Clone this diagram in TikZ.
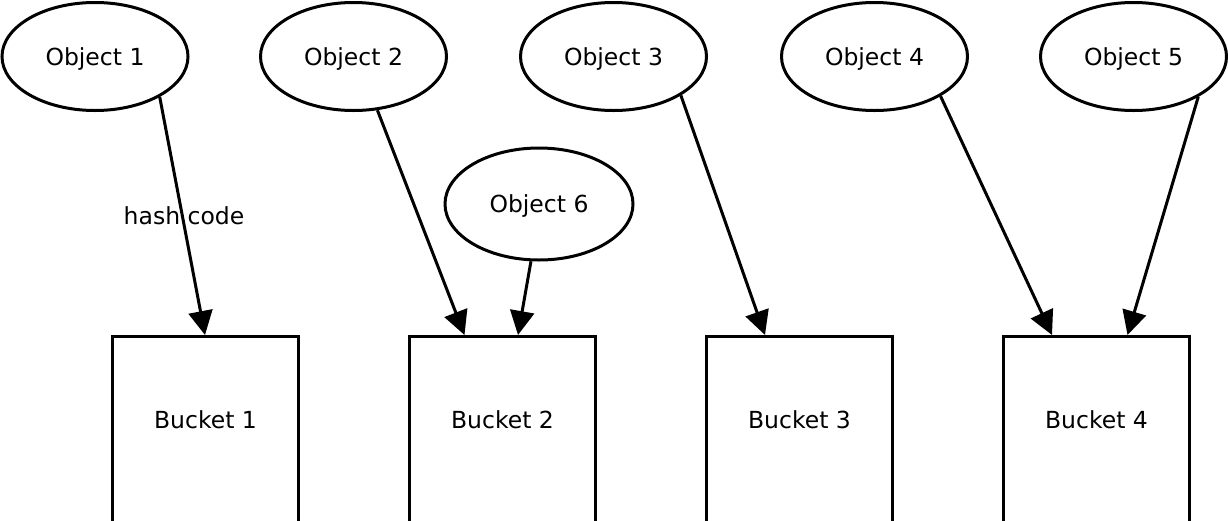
\documentclass[tikz,border=0pt]{standalone}
\usepackage{fontspec}
\setmainfont{DejaVu Sans}
\usetikzlibrary{shapes.geometric,arrows.meta}
\begin{document}
\begin{tikzpicture}[x=1pt,y=-1pt,
  every node/.style={font=\fontsize{23.5}{28}\selectfont},
  obj/.style={draw,ellipse,line width=3pt,minimum width=186pt,minimum height=108pt,inner sep=0pt,text depth=0pt},
  bucket/.style={draw,rectangle,line width=3.2pt,minimum width=186pt,minimum height=200pt,anchor=north,inner sep=0pt,text height=10pt,text depth=26pt},
  conn/.style={line width=3pt,-{Triangle[length=24pt,width=24pt]}}]
\useasboundingbox (0,0) rectangle (1228,520);
\clip (0,0) rectangle (1228,520);
\node[obj] (o1) at (95,56.5) {Object 1};
\node[obj] (o2) at (353.5,56.5) {Object 2};
\node[obj] (o3) at (613.5,56.5) {Object 3};
\node[obj] (o4) at (874.5,56.5) {Object 4};
\node[obj] (o5) at (1133.5,56.5) {Object 5};
\node[obj,minimum width=188pt,minimum height=112pt] (o6) at (539,204) {Object 6};
\node[bucket] (b1) at (205.5,335) {Bucket 1};
\node[bucket] (b2) at (502.5,335) {Bucket 2};
\node[bucket] (b3) at (799.5,335) {Bucket 3};
\node[bucket] (b4) at (1096.5,335) {Bucket 4};
\draw[conn] (o1.-32) -- ([xshift=-0.5pt]b1.north);
\draw[conn] (o2.-66.4) -- ([xshift=-38pt]b2.north);
\draw[conn] (o6.-98.2) -- ([xshift=15.5pt]b2.north);
\draw[conn] (o3.-30.5) -- ([xshift=-34.5pt]b3.north);
\draw[conn] (o4.-31) -- ([xshift=-44.5pt]b4.north);
\draw[conn] (o5.-32.3) -- ([xshift=31pt]b4.north);
\node (hc) at (184,216) {hash code};
\end{tikzpicture}
\end{document}
